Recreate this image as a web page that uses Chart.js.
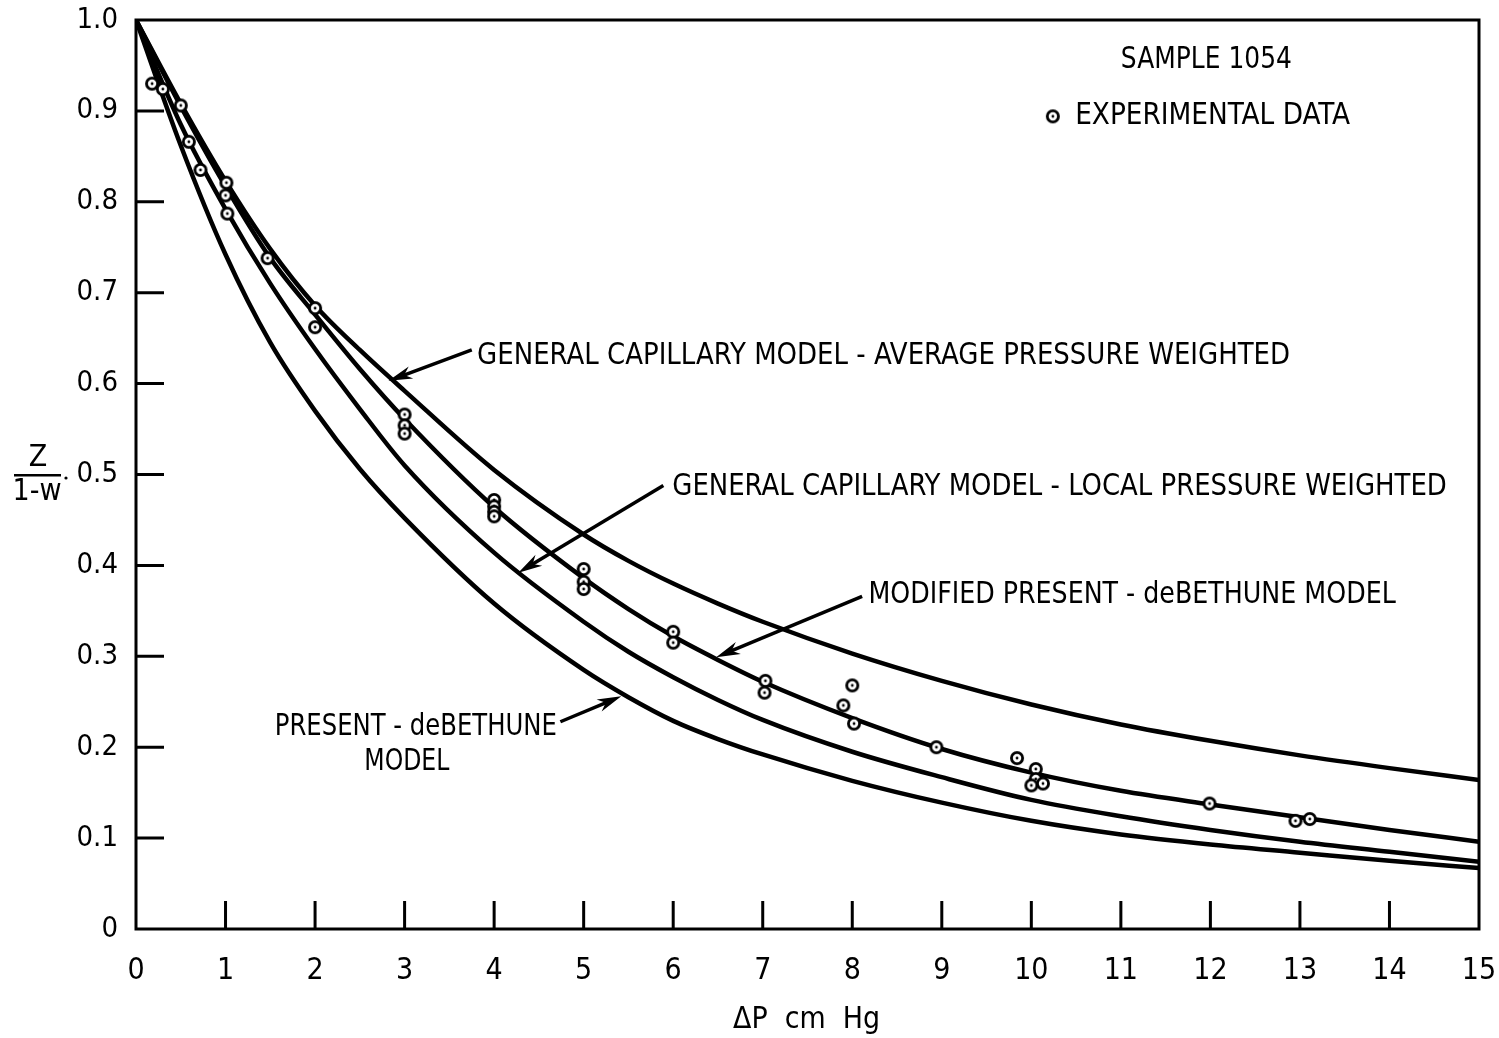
<!DOCTYPE html>
<html>
<head>
<meta charset="utf-8">
<title>Z/(1-w) vs ΔP, sample 1054</title>
<script src="https://cdn.jsdelivr.net/npm/chart.js@4.4.0/dist/chart.umd.min.js"></script>
<style>
  html, body { margin: 0; padding: 0; background: #fff; }
  #wrap { width: 1499px; height: 1038px; }
</style>
</head>
<body>
<div id="wrap"><canvas id="chart" width="1499" height="1038"></canvas></div>
<script>
const FONT = '"Liberation Sans Narrow", "DejaVu Sans Condensed", "Open Sans", sans-serif';

// pressure difference where the model curves were read (cm Hg)
const curveX = [0, 0.5, 1, 1.5, 2, 2.5, 3, 4, 5, 5.5, 6, 6.5, 7, 8, 9, 10, 11, 12, 13, 14, 15];

// general capillary model - average pressure weighted
const avgWeighted = [1.0, 0.908, 0.823, 0.748, 0.686, 0.637, 0.592, 0.505, 0.434, 0.405, 0.380, 0.358, 0.338, 0.303, 0.273, 0.247, 0.225, 0.207, 0.191, 0.177, 0.164];
// modified present - deBethune model
const modifiedDeBethune = [1.0, 0.905, 0.817, 0.738, 0.676, 0.616, 0.561, 0.464, 0.386, 0.352, 0.322, 0.296, 0.272, 0.232, 0.198, 0.172, 0.152, 0.137, 0.123, 0.109, 0.096];
// general capillary model - local pressure weighted
const localWeighted = [1.0, 0.885, 0.792, 0.71, 0.638, 0.572, 0.51, 0.414, 0.338, 0.305, 0.277, 0.252, 0.23, 0.195, 0.167, 0.142, 0.124, 0.109, 0.096, 0.085, 0.074];
// present - deBethune model
const presentDeBethune = [1.0, 0.862, 0.742, 0.645, 0.57, 0.506, 0.452, 0.358, 0.285, 0.255, 0.229, 0.209, 0.192, 0.163, 0.139, 0.119, 0.104, 0.093, 0.084, 0.075, 0.067];

// experimental data
const expX = [0.18, 0.3, 0.5, 0.59, 0.72, 1.01, 1.0, 1.02, 1.47, 2.0, 2.0, 3.0, 3.0, 3.0, 4.0, 4.0, 4.0, 4.0, 5.0, 5.0, 5.0, 6.0, 6.0, 7.03, 7.02, 8.0, 7.9, 8.02, 8.94, 9.84, 10.05, 10.05, 10.0, 10.13, 11.99, 12.95, 13.11];
const expY = [0.930, 0.924, 0.906, 0.866, 0.835, 0.821, 0.807, 0.787, 0.738, 0.683, 0.662, 0.566, 0.554, 0.545, 0.472, 0.465, 0.459, 0.454, 0.396, 0.382, 0.374, 0.327, 0.315, 0.273, 0.260, 0.268, 0.246, 0.226, 0.200, 0.188, 0.176, 0.165, 0.158, 0.160, 0.138, 0.119, 0.121];

const xTicks = [0, 1, 2, 3, 4, 5, 6, 7, 8, 9, 10, 11, 12, 13, 14, 15];
const yTicks = [0, 0.1, 0.2, 0.3, 0.4, 0.5, 0.6, 0.7, 0.8, 0.9, 1.0];

// labels with arrows: text spans x0..x1 at y, arrow from tail to tip (data units)
const notes = [
  { text: 'GENERAL CAPILLARY MODEL - AVERAGE PRESSURE WEIGHTED', x0: 3.81, x1: 12.89, y: 0.630, tail: [3.75, 0.637], tip: [2.82, 0.603] },
  { text: 'GENERAL CAPILLARY MODEL - LOCAL PRESSURE WEIGHTED', x0: 5.99, x1: 14.64, y: 0.486, tail: [5.89, 0.488], tip: [4.27, 0.392] },
  { text: 'MODIFIED PRESENT - deBETHUNE MODEL', x0: 8.18, x1: 14.07, y: 0.367, tail: [8.11, 0.366], tip: [6.48, 0.299] },
  { text: 'PRESENT - deBETHUNE', x0: 1.55, x1: 4.70, y: 0.222, tail: [4.74, 0.228], tip: [5.42, 0.256] },
  { text: 'MODEL', x0: 2.55, x1: 3.50, y: 0.183 },
  { text: 'SAMPLE 1054', x0: 11.0, x1: 12.91, y: 0.956 },
  { text: 'EXPERIMENTAL DATA', x0: 10.49, x1: 13.56, y: 0.894, marker: [10.24, 0.894] }
];

// circle-dot symbol for the measured points
function makeMarker() {
  const c = document.createElement('canvas');
  c.width = 18; c.height = 18;
  const g = c.getContext('2d');
  g.beginPath();
  g.arc(9, 9, 5.6, 0, Math.PI * 2);
  g.fillStyle = '#fff';
  g.fill();
  g.lineWidth = 2.8;
  g.strokeStyle = '#000';
  g.stroke();
  g.beginPath();
  g.arc(9, 9, 1.4, 0, Math.PI * 2);
  g.fillStyle = '#000';
  g.fill();
  return c;
}
const marker = makeMarker();

function curve(ys) {
  return {
    type: 'line',
    data: curveX.map((x, i) => ({ x: x, y: ys[i] })),
    borderColor: '#000',
    borderWidth: 4.5,
    pointRadius: 0,
    fill: false,
    cubicInterpolationMode: 'monotone',
    order: 1
  };
}

function fitText(ctx, text, left, right, y) {
  const w = ctx.measureText(text).width;
  ctx.save();
  ctx.translate(left, y);
  ctx.scale((right - left) / w, 1);
  ctx.fillText(text, 0, 0);
  ctx.restore();
}

function arrow(ctx, x1, y1, x2, y2) {
  const a = Math.atan2(y2 - y1, x2 - x1);
  const len = 24, half = 6.5;
  ctx.beginPath();
  ctx.moveTo(x1, y1);
  ctx.lineTo(x2 - Math.cos(a) * len * 0.6, y2 - Math.sin(a) * len * 0.6);
  ctx.lineWidth = 3.5;
  ctx.stroke();
  ctx.beginPath();
  ctx.moveTo(x2, y2);
  ctx.lineTo(x2 - Math.cos(a) * len - Math.sin(a) * half, y2 - Math.sin(a) * len + Math.cos(a) * half);
  ctx.lineTo(x2 - Math.cos(a) * len * 0.7, y2 - Math.sin(a) * len * 0.7);
  ctx.lineTo(x2 - Math.cos(a) * len + Math.sin(a) * half, y2 - Math.sin(a) * len - Math.cos(a) * half);
  ctx.closePath();
  ctx.fill();
}

// frame, inward tick marks, annotations and axis titles
const paperPlugin = {
  id: 'paper',
  beforeDatasetsDraw(chart) {
    const { ctx, chartArea: a, scales: { x, y } } = chart;
    ctx.save();
    ctx.strokeStyle = '#000';
    ctx.lineWidth = 3;
    ctx.strokeRect(a.left, a.top, a.right - a.left, a.bottom - a.top);
    ctx.beginPath();
    yTicks.slice(1, -1).forEach(v => {
      const py = y.getPixelForValue(v);
      ctx.moveTo(a.left, py);
      ctx.lineTo(a.left + 28, py);
    });
    xTicks.slice(1, -1).forEach(v => {
      const px = x.getPixelForValue(v);
      ctx.moveTo(px, a.bottom);
      ctx.lineTo(px, a.bottom - 28);
    });
    ctx.stroke();
    ctx.restore();
  },
  afterDatasetsDraw(chart) {
    const { ctx, scales: { x, y } } = chart;
    ctx.save();
    ctx.fillStyle = '#000';
    ctx.strokeStyle = '#000';
    ctx.font = '30px ' + FONT;
    ctx.textBaseline = 'middle';
    notes.forEach(n => {
      const py = y.getPixelForValue(n.y);
      fitText(ctx, n.text, x.getPixelForValue(n.x0), x.getPixelForValue(n.x1), py);
      if (n.tail) {
        arrow(ctx, x.getPixelForValue(n.tail[0]), y.getPixelForValue(n.tail[1]),
          x.getPixelForValue(n.tip[0]), y.getPixelForValue(n.tip[1]));
      }
      if (n.marker) {
        ctx.drawImage(marker, x.getPixelForValue(n.marker[0]) - 9, y.getPixelForValue(n.marker[1]) - 9);
      }
    });

    // x axis title
    fitText(ctx, 'ΔP  cm  Hg', 733, 880, 1020);

    // y axis title as a fraction Z / 1-w
    ctx.textAlign = 'center';
    ctx.fillText('Z', 38, 458);
    ctx.fillText('1-w', 37, 492);
    ctx.fillRect(14, 474, 47, 2.5);
    ctx.beginPath();
    ctx.arc(66, 478, 1.6, 0, Math.PI * 2);
    ctx.fill();
    ctx.restore();
  }
};

const ctx = document.getElementById('chart');
new Chart(ctx, {
  type: 'scatter',
  data: {
    datasets: [
      {
        label: 'EXPERIMENTAL DATA',
        data: expX.map((x, i) => ({ x: x, y: expY[i] })),
        pointStyle: marker,
        pointRadius: 6,
        showLine: false,
        order: 0
      },
      Object.assign(curve(avgWeighted), { label: 'GENERAL CAPILLARY MODEL - AVERAGE PRESSURE WEIGHTED' }),
      Object.assign(curve(modifiedDeBethune), { label: 'MODIFIED PRESENT - deBETHUNE MODEL' }),
      Object.assign(curve(localWeighted), { label: 'GENERAL CAPILLARY MODEL - LOCAL PRESSURE WEIGHTED' }),
      Object.assign(curve(presentDeBethune), { label: 'PRESENT - deBETHUNE MODEL' })
    ]
  },
  options: {
    responsive: false,
    animation: false,
    devicePixelRatio: 1,
    layout: { padding: { top: 20, right: 20, left: 0, bottom: 0 } },
    plugins: { legend: { display: false }, tooltip: { enabled: false } },
    scales: {
      x: {
        type: 'linear',
        min: 0,
        max: 15,
        afterFit: s => { s.height = 109; s.paddingLeft = 0; s.paddingRight = 0; },
        afterBuildTicks: s => { s.ticks = xTicks.map(v => ({ value: v })); },
        grid: { display: false },
        border: { display: false },
        ticks: { color: '#000', font: { family: FONT, size: 30 }, padding: 16, maxRotation: 0 }
      },
      y: {
        type: 'linear',
        min: 0,
        max: 1,
        afterFit: s => { s.width = 136; s.paddingTop = 0; s.paddingBottom = 0; },
        afterBuildTicks: s => { s.ticks = yTicks.map(v => ({ value: v })); },
        grid: { display: false },
        border: { display: false },
        ticks: {
          color: '#000',
          font: { family: FONT, size: 29 },
          padding: 10,
          callback: v => (v === 0 ? '0' : v.toFixed(1))
        }
      }
    }
  },
  plugins: [paperPlugin]
});
</script>
</body>
</html>
